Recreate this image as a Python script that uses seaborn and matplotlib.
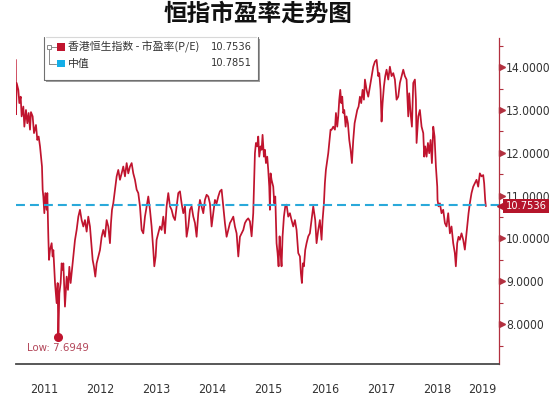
import os
import numpy as np
import pandas as pd
import matplotlib
matplotlib.use("Agg")
import matplotlib.pyplot as plt
import seaborn as sns
from matplotlib import font_manager
from matplotlib.font_manager import FontProperties
from matplotlib.patches import Rectangle
from matplotlib.lines import Line2D

# ---------------- data ----------------
title = "恒指市盈率走势图"
series_name = "香港恒生指数 - 市盈率(P/E)"
median_name = "中值"
last_value = 10.7536
median_value = 10.7851
low_value = 7.6949
year_labels = ["2011", "2012", "2013", "2014", "2015", "2016", "2017", "2018", "2019"]
y_ticks = [8.0, 9.0, 10.0, 11.0, 12.0, 13.0, 14.0]

dates = [
    2011.000, 2011.004, 2011.015, 2011.045, 2011.063, 2011.087, 2011.104, 2011.134, 2011.152, 2011.181,
    2011.205, 2011.229, 2011.253, 2011.270, 2011.300, 2011.324, 2011.359, 2011.383, 2011.407, 2011.431,
    2011.448, 2011.466, 2011.478, 2011.490, 2011.508, 2011.525, 2011.549, 2011.561, 2011.579, 2011.591,
    2011.608, 2011.638, 2011.656, 2011.668, 2011.698, 2011.727, 2011.745, 2011.757, 2011.775, 2011.798,
    2011.816, 2011.834, 2011.846, 2011.875, 2011.905, 2011.929, 2011.953, 2011.976, 2012.000, 2012.024,
    2012.053, 2012.083, 2012.113, 2012.142, 2012.172, 2012.202, 2012.231, 2012.261, 2012.290, 2012.320,
    2012.350, 2012.368, 2012.391, 2012.415, 2012.439, 2012.469, 2012.498, 2012.528, 2012.557, 2012.587,
    2012.617, 2012.646, 2012.676, 2012.694, 2012.712, 2012.735, 2012.765, 2012.795, 2012.824, 2012.854,
    2012.884, 2012.913, 2012.943, 2012.973, 2013.002, 2013.032,
    2013.062, 2013.091, 2013.121, 2013.151, 2013.180, 2013.210, 2013.240, 2013.269, 2013.299, 2013.329,
    2013.358, 2013.388, 2013.417, 2013.447, 2013.465, 2013.489, 2013.506, 2013.536, 2013.566, 2013.595,
    2013.625, 2013.655, 2013.684, 2013.714, 2013.744, 2013.773, 2013.803, 2013.833, 2013.862, 2013.892,
    2013.922, 2013.951, 2013.981, 2014.011, 2014.040, 2014.070, 2014.100, 2014.129, 2014.159, 2014.189,
    2014.218, 2014.248, 2014.277, 2014.307, 2014.337, 2014.366, 2014.396, 2014.426, 2014.455, 2014.485,
    2014.515, 2014.544, 2014.574, 2014.604, 2014.633, 2014.663, 2014.693, 2014.722, 2014.752, 2014.782,
    2014.811, 2014.841, 2014.871, 2014.900, 2014.930, 2014.960, 2014.989, 2015.019, 2015.049, 2015.078,
    2015.108, 2015.137, 2015.167,
    2015.197, 2015.226, 2015.256, 2015.274, 2015.297, 2015.315, 2015.333, 2015.357, 2015.375, 2015.392,
    2015.416, 2015.434, 2015.452, 2015.475, 2015.493, 2015.511, 2015.523, 2015.535, 2015.552, 2015.582,
    2015.600, 2015.618, 2015.641, 2015.659, 2015.677, 2015.695, 2015.713, 2015.730, 2015.748, 2015.772,
    2015.796, 2015.819, 2015.849, 2015.879, 2015.908, 2015.938, 2015.968, 2015.997, 2016.027, 2016.057,
    2016.074, 2016.092, 2016.110, 2016.128, 2016.151, 2016.175, 2016.205, 2016.234, 2016.264, 2016.294,
    2016.312, 2016.329, 2016.353, 2016.383, 2016.412, 2016.442, 2016.460, 2016.484, 2016.501, 2016.519,
    2016.543, 2016.561, 2016.579, 2016.602,
    2016.621, 2016.650, 2016.680, 2016.698, 2016.721, 2016.739, 2016.757, 2016.775, 2016.793, 2016.810,
    2016.828, 2016.846, 2016.870, 2016.887, 2016.911, 2016.935, 2016.959, 2016.982, 2017.006, 2017.030,
    2017.054, 2017.077, 2017.101, 2017.125, 2017.148, 2017.172, 2017.196, 2017.214, 2017.243, 2017.273,
    2017.303, 2017.332, 2017.362, 2017.392, 2017.421, 2017.451, 2017.469, 2017.492, 2017.510, 2017.528,
    2017.552, 2017.575, 2017.599, 2017.629, 2017.658, 2017.688, 2017.718, 2017.747, 2017.777, 2017.807,
    2017.836, 2017.866, 2017.896, 2017.925, 2017.955, 2017.985, 2018.002, 2018.026, 2018.050, 2018.074,
    2018.103, 2018.121, 2018.133, 2018.163, 2018.192, 2018.222, 2018.252, 2018.269, 2018.287, 2018.311,
    2018.335, 2018.358, 2018.382, 2018.406, 2018.430, 2018.453, 2018.477, 2018.501,
    2018.506, 2018.524, 2018.548, 2018.577, 2018.607, 2018.637, 2018.666, 2018.696, 2018.726, 2018.755,
    2018.785, 2018.814, 2018.832, 2018.856, 2018.880, 2018.903, 2018.933, 2018.963, 2018.992, 2019.010,
    2019.034, 2019.058, 2019.081, 2019.111, 2019.141, 2019.170, 2019.200, 2019.230, 2019.259, 2019.289,
    2019.319, 2019.336, 2019.354, 2019.366,
]

pe = [
    14.17, 12.90, 13.63, 13.47, 13.16, 13.31, 12.85, 13.08, 12.61, 13.00,
    12.69, 12.93, 12.54, 12.95, 12.85, 12.46, 12.65, 12.30, 12.38, 12.15,
    11.91, 11.68, 11.14, 10.98, 10.59, 11.06, 10.67, 11.06, 10.04, 9.50,
    9.73, 9.89, 9.58, 9.73, 8.96, 8.49, 8.96, 7.6949, 8.72, 8.96,
    9.42, 9.27, 9.42, 8.41, 9.11, 8.80, 9.34, 8.96, 9.27, 9.58,
    9.96, 10.20, 10.51, 10.67, 10.43, 10.28, 10.43, 10.16, 10.51, 10.28,
    9.81, 9.50, 9.34, 9.11, 9.42, 9.58, 9.73, 10.04, 10.20, 10.04,
    10.43, 10.28, 9.89, 10.36, 10.67, 10.82, 11.14, 11.45, 11.60, 11.37,
    11.52, 11.68, 11.45, 11.76, 11.52, 11.68,
    11.76, 11.52, 11.37, 11.14, 11.06, 10.75, 10.20, 10.12, 10.51, 10.75,
    10.98, 10.67, 10.28, 9.73, 9.35, 9.58, 9.97, 10.12, 10.28, 10.20,
    10.51, 10.12, 10.75, 11.06, 10.75, 10.67, 10.51, 10.43, 10.75, 11.06,
    11.10, 10.82, 10.59, 10.75, 10.04, 10.28, 10.67, 10.75, 10.51, 10.36,
    10.04, 10.59, 10.90, 10.75, 10.59, 10.90, 11.02, 10.98, 10.82, 10.28,
    10.59, 10.90, 10.82, 10.98, 11.10, 11.14, 10.75, 10.36, 10.04, 10.20,
    10.36, 10.43, 10.51, 10.28, 10.12, 9.58, 10.04, 10.12, 10.20, 10.36,
    10.43, 10.47, 10.40,
    10.05, 10.59, 11.99, 12.23, 12.15, 12.38, 11.91, 12.15, 12.07, 12.42,
    11.91, 12.07, 11.76, 11.91, 11.60, 11.21, 10.67, 11.52, 11.37, 11.21,
    10.82, 10.98, 9.89, 9.66, 9.35, 10.05, 9.66, 9.35, 10.05, 10.51,
    10.75, 10.79, 10.51, 10.59, 10.43, 10.28, 10.43, 10.20, 9.66, 9.58,
    9.19, 8.96, 9.42, 9.35, 9.73, 9.89, 10.05, 10.12, 10.43, 10.75,
    10.59, 10.43, 9.89, 10.20, 10.43, 9.97, 10.43, 10.82, 11.29, 11.60,
    11.83, 11.99, 12.23, 12.54,
    12.54, 12.61, 12.54, 12.93, 12.61, 12.85, 13.24, 13.47, 13.16, 13.31,
    12.93, 13.00, 12.61, 12.85, 12.69, 12.30, 12.07, 11.76, 12.30, 12.69,
    12.85, 13.00, 13.08, 13.31, 13.16, 13.47, 13.24, 13.71, 13.47, 13.31,
    13.55, 13.79, 14.01, 14.13, 14.17, 13.79, 13.86, 13.47, 12.73, 13.16,
    13.55, 13.79, 13.94, 13.71, 14.01, 13.79, 13.86, 13.71, 13.24, 13.31,
    13.63, 13.79, 13.94, 13.79, 13.71, 12.85, 13.39, 12.93, 12.61, 13.63,
    13.71, 13.24, 12.23, 12.85, 13.00, 12.61, 12.46, 11.91, 12.15, 11.91,
    12.23, 11.99, 12.30, 11.76, 12.61, 12.38, 11.68, 11.21,
    10.90, 10.75, 10.82, 10.59, 10.67, 10.36, 10.28, 10.59, 10.12, 10.28,
    9.89, 9.66, 9.35, 9.89, 10.04, 9.97, 10.12, 9.97, 9.74, 9.97,
    10.28, 10.59, 10.82, 11.06, 11.21, 11.29, 11.37, 11.21, 11.52, 11.45,
    11.48, 11.29, 10.90, 10.7536,
]

# ---------------- style ----------------
RED = "#c0142e"
CYAN = "#2aa9da"
AXRED = "#b2303f"
TAGRED = "#b5152b"
TXT = "#333333"

sns.set_style("white")
CJK = "Noto Sans CJK SC"
plt.rcParams["font.family"] = ["Liberation Sans", CJK, "DejaVu Sans"]

# look for a condensed latin face for the numbers (falls back to Liberation Sans)
def find_condensed():
    keys = ["liberationsansnarrow-regular", "dejavusanscondensed.ttf", "robotocondensed-regular",
            "opensans_condensed-regular", "opensanscondensed-regular", "notosans-condensed.ttf",
            "notosanscondensed-regular"]
    files = [f.fname for f in font_manager.fontManager.ttflist]
    for k in keys:
        for fn in files:
            b = os.path.basename(fn).lower()
            if b == k or b.startswith(k):
                return fn
    return None

cond = find_condensed()
if cond:
    def num_font(size):
        return FontProperties(fname=cond, size=size * 1.09)
else:
    def num_font(size):
        return FontProperties(family="Liberation Sans", size=size)
NUM_SIZE = 7.9

W, H = 550, 398
fig = plt.figure(figsize=(W / 100, H / 100), dpi=100)
fig.patch.set_facecolor("white")

def fx(x):
    return x / W

def fy(y):
    return 1 - y / H

ax_left, ax_right, ax_top, ax_bottom = 15.8, 499, 38, 364
ax = fig.add_axes([fx(ax_left), fy(ax_bottom), fx(ax_right - ax_left), (ax_bottom - ax_top) / H])

df = pd.DataFrame({"date": dates, "pe": pe})
sns.lineplot(data=df, x="date", y="pe", ax=ax, color=RED, lw=1.25, zorder=3)
ax.axhline(median_value, color=CYAN, lw=1.5, dashes=(4.3, 2.4), zorder=4)

x_lo, x_hi = 2011.0, 2019.6
ax.set_xlim(x_lo, x_hi)
ax.set_ylim(7.07, 14.68)
ax.set_xlabel("")
ax.set_ylabel("")

# spines
for s in ["left", "top"]:
    ax.spines[s].set_visible(False)
ax.spines["right"].set_color(AXRED)
ax.spines["right"].set_linewidth(0.9)
ax.spines["bottom"].set_color("#4a4a4a")
ax.spines["bottom"].set_linewidth(1.3)

# y axis on right
ax.yaxis.tick_right()
ax.set_yticks(y_ticks)
ax.set_yticklabels([f"{v:.4f}" for v in y_ticks])
ax.set_yticks([v + 0.5 for v in [7.0] + y_ticks], minor=True)
ax.tick_params(axis="y", which="major", length=0, pad=5, labelcolor=TXT)
ax.tick_params(axis="y", which="minor", length=3, width=0.8, color=AXRED, direction="out")
for lab in ax.get_yticklabels():
    lab.set_fontproperties(num_font(NUM_SIZE))
ax.plot([1.0065] * len(y_ticks), y_ticks, linestyle="none", marker=">", ms=4.2,
        color=AXRED, transform=ax.get_yaxis_transform(), clip_on=False, zorder=5)

# x axis: dividers at year starts, labels centred in each year
years = [int(y) for y in year_labels]
ax.set_xticks([y for y in years if x_lo < y < x_hi])
ax.set_xticklabels([])
centers = [(max(y, x_lo) + min(y + 1, x_hi)) / 2 for y in years]
ax.set_xticks(centers, minor=True)
ax.set_xticklabels(year_labels, minor=True)
ax.tick_params(axis="x", which="major", length=25, width=0.9, color="#8a8a8a", direction="out")
ax.tick_params(axis="x", which="minor", length=0, pad=14, labelcolor=TXT)
for lab in ax.get_xticklabels(minor=True):
    lab.set_fontproperties(num_font(NUM_SIZE + 0.3))
ax.grid(False)

# last value tag on the right axis
ax.plot([1.0070], [last_value], linestyle="none", marker="<", ms=7.0, color=TAGRED,
        transform=ax.get_yaxis_transform(), clip_on=False, zorder=6)
ax.text(1.0 + 6.5 / 483, last_value, f"{last_value:.4f}", transform=ax.get_yaxis_transform(),
        ha="left", va="center", color="white", fontproperties=num_font(7.3), zorder=7,
        clip_on=False, bbox=dict(boxstyle="square,pad=0.2", fc=TAGRED, ec="none"))

# low point
idx = int(np.argmin(pe))
ax.plot([dates[idx]], [pe[idx]], marker="o", ms=5.5, color=RED, zorder=5, clip_on=False)
ax.annotate(f"Low: {low_value:.4f}", (dates[idx], pe[idx]), xytext=(0, -4.5),
            textcoords="offset points", ha="center", va="top", color="#b3475a",
            fontproperties=num_font(NUM_SIZE - 0.4))

# title
fig.text(fx(258), fy(14), title, ha="center", va="center", fontsize=17, fontweight="bold",
         color="#111111", family=[CJK])

# legend (manual)
bx0, by0, bx1, by1 = 44, 37, 258, 80
fig.patches.append(Rectangle((fx(bx0 + 1.5), fy(by1 + 1.6)), fx(bx1 - bx0), (by1 - by0) / H,
                             transform=fig.transFigure, fc="#a0a0a0", ec="none", zorder=8))
fig.patches.append(Rectangle((fx(bx0), fy(by1)), fx(bx1 - bx0), (by1 - by0) / H,
                             transform=fig.transFigure, fc="white", ec="none", zorder=9))
edges = [
    ([bx0, bx0], [by0, by1], "#707070"),
    ([bx0, bx1], [by1, by1], "#707070"),
    ([bx1, bx1], [by0, by1], "#707070"),
    ([bx0 + 2, bx1 - 2], [by0, by0], "#d8d8d8"),
]
for xs, ys, c in edges:
    fig.lines.append(Line2D([fx(v) for v in xs], [fy(v) for v in ys], color=c, lw=0.8,
                            transform=fig.transFigure, zorder=10))

row_y = [47, 63.5]
tree = [
    ([49, 49], [48.5, 63.5]),
    ([49, 56], [63.5, 63.5]),
    ([51, 57], [46.8, 46.8]),
]
for xs, ys in tree:
    fig.lines.append(Line2D([fx(v) for v in xs], [fy(v) for v in ys], color="#8a8a8a", lw=0.7,
                            transform=fig.transFigure, zorder=10))
fig.patches.append(Rectangle((fx(47.3), fy(48.6)), fx(3.6), 3.6 / H, transform=fig.transFigure,
                             fc="white", ec="#8a8a8a", lw=0.7, zorder=11))
for ry, col, name, val in [(row_y[0], RED, series_name, last_value),
                           (row_y[1], "#14aee8", median_name, median_value)]:
    fig.patches.append(Rectangle((fx(57.5), fy(ry + 3.8)), fx(7.5), 7.5 / H,
                                 transform=fig.transFigure, fc=col, ec="none", zorder=11))
    fig.text(fx(68), fy(ry), name, ha="left", va="center", fontsize=7.8, color=TXT,
             family=[CJK, "DejaVu Sans"], zorder=12)
    fig.text(fx(252), fy(ry), f"{val:.4f}", ha="right", va="center", color=TXT,
             fontproperties=num_font(7.3), zorder=12)

fig.savefig("out.png", dpi=100, facecolor="white")
